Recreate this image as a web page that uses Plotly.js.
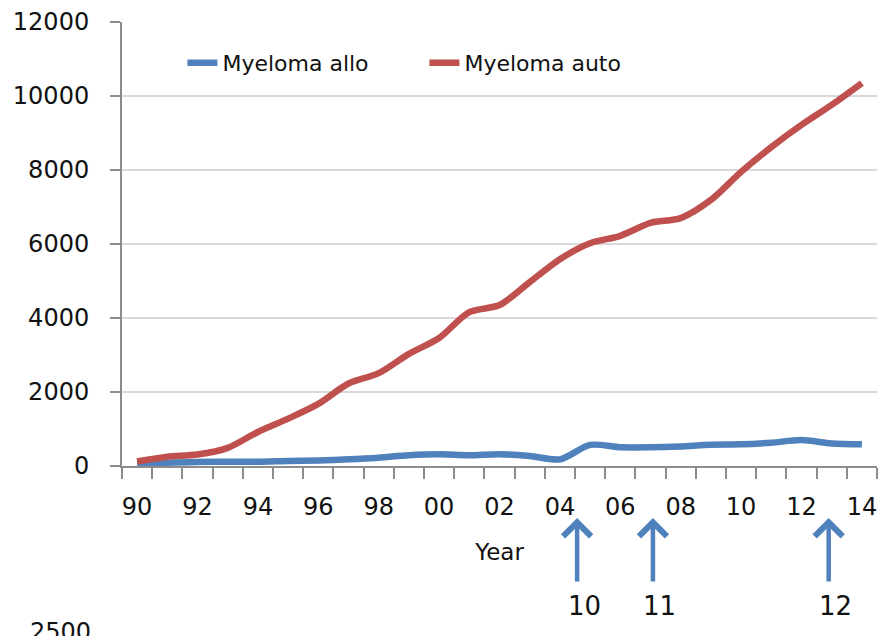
<!DOCTYPE html>
<html><head><meta charset="utf-8">
<script src="https://cdn.plot.ly/plotly-3.0.1.min.js"></script>
<style>html,body{margin:0;padding:0;background:#fff}#chart{width:889px;height:636px}</style>
</head><body><div id="chart"></div>
<script>
const years = [1990,1991,1992,1993,1994,1995,1996,1997,1998,1999,2000,2001,2002,2003,2004,2005,2006,2007,2008,2009,2010,2011,2012,2013,2014];
const tickYears = [1990,1992,1994,1996,1998,2000,2002,2004,2006,2008,2010,2012,2014];
const tickLabels = ['90','92','94','96','98','00','02','04','06','08','10','12','14'];
const alloValues = [45,90,110,115,115,135,150,180,225,290,315,290,320,270,180,570,505,505,530,575,585,630,700,610,585];
const autoValues = [120,250,310,490,920,1280,1680,2230,2510,3030,3460,4160,4350,4970,5590,6020,6220,6570,6700,7190,7950,8620,9220,9760,10350];
const arrowYears = [2004.57, 2007.08, 2012.9];
const arrowLabels = ['10','11','12'];

const FONT = 'DejaVu Sans';
const TXT = '#111111';
const AX = '#8c8c8c';

const traces = [
  {x: years, y: alloValues, name: 'Myeloma allo', type: 'scatter', mode: 'lines',
   line: {color: '#4F81BD', width: 6.5, shape: 'spline', smoothing: 0.8}},
  {x: years, y: autoValues, name: 'Myeloma auto', type: 'scatter', mode: 'lines',
   line: {color: '#C0504D', width: 6.5, shape: 'spline', smoothing: 0.8}}
];

const annotations = [];
arrowYears.forEach((yr, i) => {
  annotations.push({x: yr, xref: 'x', y: -0.117, yref: 'paper', text: '', showarrow: true,
    ax: 0, ay: 65, arrowhead: 4, arrowsize: 1.2, arrowwidth: 4.5, arrowcolor: '#4F81BD', standoff: 0});
  annotations.push({x: yr, xref: 'x', xshift: 7, y: -0.315, yref: 'paper', yanchor: 'middle',
    text: arrowLabels[i], showarrow: false, font: {family: FONT, size: 26, color: TXT}});
});
annotations.push({x: -0.082, xref: 'paper', y: -0.338, yref: 'paper', yanchor: 'top', xanchor: 'center',
  text: '2500', showarrow: false, font: {family: FONT, size: 24, color: TXT}});

const layout = {
  width: 889, height: 636,
  margin: {l: 122, r: 12, t: 22, b: 170},
  paper_bgcolor: '#ffffff', plot_bgcolor: '#ffffff',
  font: {family: FONT, color: TXT},
  showlegend: true,
  legend: {orientation: 'h', x: 0.08, xanchor: 'left', y: 0.908, yanchor: 'middle',
    font: {family: FONT, size: 22, color: TXT}, entrywidth: 197, entrywidthmode: 'pixels',
    bgcolor: 'rgba(0,0,0,0)', borderwidth: 0},
  xaxis: {type: 'linear', range: [1989.5, 2014.5], tickmode: 'array', tickvals: tickYears, ticktext: tickLabels,
    ticks: '', showgrid: false, zeroline: false, showline: true, linecolor: AX, linewidth: 2,
    tickfont: {family: FONT, size: 24, color: TXT}, ticklabelstandoff: 18,
    minor: {tick0: 1989.5, dtick: 1, ticks: 'outside', ticklen: 11, tickwidth: 2, tickcolor: AX, showgrid: false},
    title: {text: 'Year', font: {family: FONT, size: 23, color: TXT}, standoff: 24}},
  yaxis: {range: [0, 12000], dtick: 2000, tick0: 0, tickformat: 'd', ticks: 'outside', ticklen: 10, tickwidth: 2, tickcolor: AX,
    showline: true, linecolor: AX, linewidth: 2, showgrid: true, gridcolor: '#d9d9d9', gridwidth: 1.5, zeroline: false,
    tickfont: {family: FONT, size: 24, color: TXT}, ticklabelstandoff: 16},
  annotations: annotations
};

Plotly.newPlot('chart', traces, layout, {displayModeBar: false, staticPlot: true});
</script>
</body></html>
